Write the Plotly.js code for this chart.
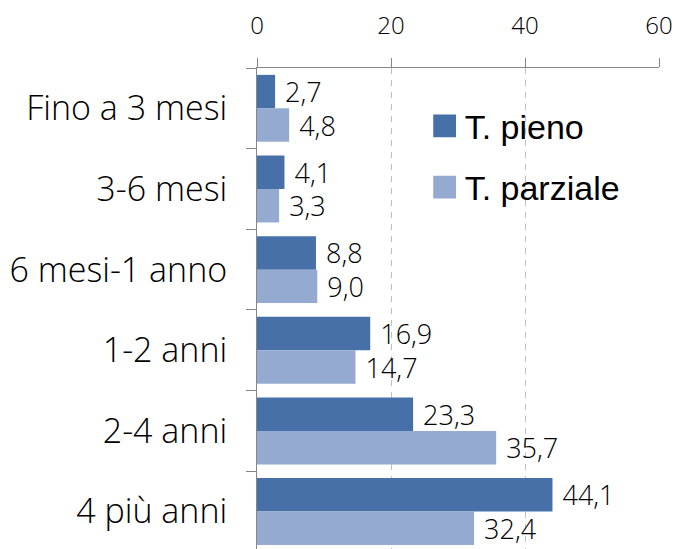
<!DOCTYPE html>
<html>
<head>
<meta charset="utf-8">
<script src="https://cdn.plot.ly/plotly-3.0.1.min.js"></script>
<style>html,body{margin:0;padding:0;background:#fff;overflow:hidden}</style>
</head>
<body>
<div id="chart" style="width:674px;height:549px"></div>
<script>
const categories = ["Fino a 3 mesi", "3-6 mesi", "6 mesi-1 anno", "1-2 anni", "2-4 anni", "4 più anni"];
const seriesNames = ["T. pieno", "T. parziale"];
const pieno = [2.7, 4.1, 8.8, 16.9, 23.3, 44.1];
const parziale = [4.8, 3.3, 9.0, 14.7, 35.7, 32.4];
const xTicks = [0, 20, 40, 60];

const colors = ["#4670A7", "#95AAD1"];

function barTrace(vals, name, color, group) {
  return {
    type: "bar",
    orientation: "h",
    x: vals,
    y: categories,
    name: name,
    legendgroup: group,
    marker: {color: color, line: {width: 0}},
    texttemplate: " %{x:.1f}",
    textposition: "outside",
    constraintext: "none",
    cliponaxis: false,
    textfont: {family: "Open Sans", size: 27, weight: 300, color: "#000"},
    hoverinfo: "none"
  };
}

const data = [
  barTrace(pieno, seriesNames[0], colors[0], "a"),
  barTrace(parziale, seriesNames[1], colors[1], "b")
];

const layout = {
  width: 674,
  height: 549,
  margin: {l: 257, r: 15, t: 68, b: 0, pad: 0},
  paper_bgcolor: "#fff",
  plot_bgcolor: "#fff",
  separators: ",.",
  barmode: "group",
  bargap: 0.17,
  bargroupgap: 0,
  showlegend: true,
  legend: {
    x: 0.417, xanchor: "left",
    y: 0.939, yanchor: "top",
    traceorder: "grouped",
    tracegroupgap: 14,
    font: {family: "Liberation Sans", size: 34, color: "#000"},
    bgcolor: "rgba(0,0,0,0)",
    borderwidth: 0
  },
  xaxis: {
    side: "top",
    range: [0, 60],
    tickvals: xTicks,
    ticktext: xTicks.map(String),
    showgrid: true,
    gridcolor: "#BFBFBF",
    gridwidth: 1,
    griddash: "6px,6px",
    zeroline: false,
    showline: true,
    linecolor: "#868686",
    linewidth: 1,
    ticks: "outside",
    ticklen: 9,
    tickcolor: "#868686",
    tickfont: {family: "Open Sans", size: 24, weight: 300, color: "#000"},
    ticklabelstandoff: 14,
    fixedrange: true
  },
  yaxis: {
    type: "category",
    categoryorder: "array",
    categoryarray: categories,
    range: [5.464, -0.5],
    tickson: "boundaries",
    ticks: "outside",
    ticklen: 10,
    tickcolor: "#868686",
    showgrid: false,
    zeroline: false,
    showline: true,
    linecolor: "#868686",
    linewidth: 1,
    tickfont: {family: "Open Sans", size: 34, weight: 300, color: "#000"},
    ticklabelstandoff: 22,
    fixedrange: true
  }
};

Plotly.newPlot("chart", data, layout, {displayModeBar: false, staticPlot: true}).then(function () {
  // enlarge the legend swatches to match the reference's bigger squares
  document.querySelectorAll("#chart .legend .legendpoints path").forEach(function (p) {
    const t = p.getAttribute("transform") || "";
    p.setAttribute("transform", t + " scale(1.9)");
  });
});
</script>
</body>
</html>
